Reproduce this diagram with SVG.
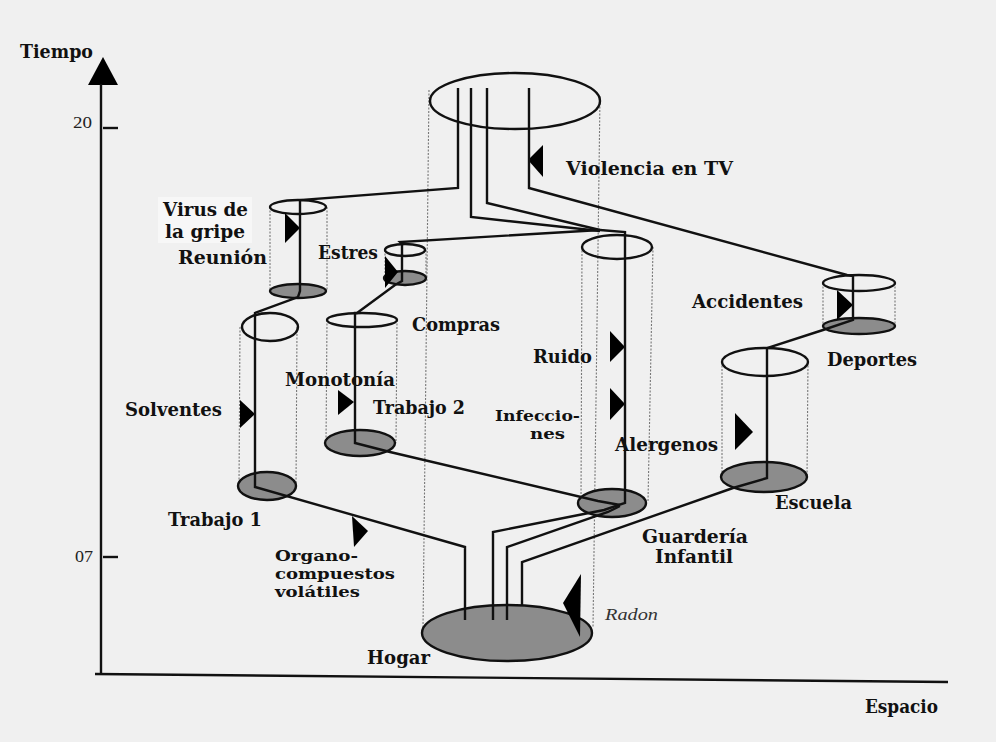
<svg xmlns="http://www.w3.org/2000/svg" width="996" height="742" viewBox="0 0 996 742">
  <style>
    .lbl { font-family: "DejaVu Serif", "Liberation Serif", serif; font-weight: bold; font-size: 18px; fill: #111; }
    .sm { font-size: 15px; }
    .tick { font-family: "Liberation Serif", "DejaVu Serif", serif; font-size: 17px; fill: #222; }
    .rad { font-family: "Liberation Serif", "DejaVu Serif", serif; font-style: italic; font-size: 16px; fill: #333; }
    .rim { fill: none; stroke: #111; stroke-width: 2.4; }
    .base { fill: #8c8c8c; stroke: #111; stroke-width: 2.4; }
    .side { stroke: #777; stroke-width: 1.1; stroke-dasharray: 2 1.5; fill: none; }
    .path { fill: none; stroke: #111; stroke-width: 2.4; stroke-linejoin: miter; }
    .axis { fill: none; stroke: #111; stroke-width: 2.4; }
    .tri { fill: #000; }
  </style>

  <rect width="996" height="742" fill="#f0f0f0"/>

  <!-- axes -->
  <g id="axes">
    <polygon points="103,57 88,85 118,85" fill="#000"/>
    <line class="axis" x1="101" y1="84" x2="101" y2="675"/>
    <line class="axis" x1="95" y1="674" x2="948" y2="682"/>
    <line class="axis" x1="103" y1="128" x2="118" y2="128"/>
    <line class="axis" x1="103" y1="557" x2="118" y2="557"/>
    <text class="lbl" x="20" y="58" textLength="73" lengthAdjust="spacingAndGlyphs">Tiempo</text>
    <text class="tick" x="73" y="128" textLength="19" lengthAdjust="spacingAndGlyphs">20</text>
    <text class="tick" x="75" y="562" textLength="18" lengthAdjust="spacingAndGlyphs">07</text>
    <text class="lbl" x="865" y="713" textLength="73" lengthAdjust="spacingAndGlyphs">Espacio</text>
  </g>

  <!-- big home cylinder: evening (top) and Hogar (bottom) -->
  <g id="hogar">
    <line class="side" x1="429" y1="90" x2="423" y2="628"/>
    <line class="side" x1="600" y1="96" x2="593" y2="628"/>
    <ellipse class="base" cx="507" cy="633" rx="85" ry="28"/>
    <ellipse class="rim" cx="515" cy="101" rx="85" ry="28"/>
    <path class="tri" d="M563,603 L581,574 L580,637 Z"/>
    <text class="lbl" x="367" y="664" textLength="63" lengthAdjust="spacingAndGlyphs">Hogar</text>
    <text class="rad" x="605" y="620" textLength="53" lengthAdjust="spacingAndGlyphs">Radon</text>
    <path class="tri" d="M528,160 L543,145 L543,177 Z"/>
    <text class="lbl" x="566" y="175" textLength="167" lengthAdjust="spacingAndGlyphs">Violencia en TV</text>
  </g>

  <!-- Reunión -->
  <g id="reunion">
    <line class="side" x1="270" y1="207" x2="270" y2="291"/>
    <line class="side" x1="327" y1="207" x2="327" y2="291"/>
    <ellipse class="base" cx="298" cy="291" rx="28" ry="7"/>
    <ellipse class="rim" cx="298" cy="207" rx="28" ry="7"/>
    <path class="tri" d="M285,213 L300,228 L285,243 Z"/>
    <rect x="158" y="197" width="94" height="46" fill="#f7f7f7"/>
    <text class="lbl" x="163" y="216" textLength="85" lengthAdjust="spacingAndGlyphs">Virus de</text>
    <text class="lbl" x="165" y="238" textLength="80" lengthAdjust="spacingAndGlyphs">la gripe</text>
    <text class="lbl" x="178" y="264" textLength="89" lengthAdjust="spacingAndGlyphs">Reunión</text>
  </g>

  <!-- Trabajo 1 -->
  <g id="trabajo1">
    <line class="side" x1="240" y1="327" x2="239" y2="486"/>
    <line class="side" x1="297" y1="327" x2="296" y2="486"/>
    <ellipse class="base" cx="267" cy="486" rx="29" ry="14"/>
    <ellipse class="rim" cx="270" cy="327" rx="28" ry="14"/>
    <path class="tri" d="M240,400 L255,414 L240,428 Z"/>
    <text class="lbl" x="125" y="416" textLength="97" lengthAdjust="spacingAndGlyphs">Solventes</text>
    <text class="lbl" x="168" y="526" textLength="94" lengthAdjust="spacingAndGlyphs">Trabajo 1</text>
    <path class="tri" d="M352,516 L368,531 L354,547 Z"/>
    <text class="lbl sm" x="275" y="561" textLength="83" lengthAdjust="spacingAndGlyphs">Organo-</text>
    <text class="lbl sm" x="275" y="579" textLength="120" lengthAdjust="spacingAndGlyphs">compuestos</text>
    <text class="lbl sm" x="275" y="597" textLength="85" lengthAdjust="spacingAndGlyphs">volátiles</text>
  </g>

  <!-- Compras -->
  <g id="compras">
    <line class="side" x1="385" y1="250" x2="385" y2="278"/>
    <line class="side" x1="426" y1="250" x2="426" y2="278"/>
    <ellipse class="base" cx="405" cy="278" rx="21" ry="7"/>
    <ellipse class="rim" cx="405" cy="250" rx="20" ry="6"/>
    <path class="tri" d="M385,256 L398,272 L385,288 Z"/>
    <text class="lbl" x="318" y="259" textLength="60" lengthAdjust="spacingAndGlyphs">Estres</text>
    <text class="lbl" x="412" y="331" textLength="88" lengthAdjust="spacingAndGlyphs">Compras</text>
  </g>

  <!-- Trabajo 2 -->
  <g id="trabajo2">
    <line class="side" x1="327" y1="320" x2="326" y2="443"/>
    <line class="side" x1="397" y1="320" x2="396" y2="443"/>
    <ellipse class="base" cx="360" cy="443" rx="35" ry="13"/>
    <ellipse class="rim" cx="362" cy="320" rx="35" ry="7"/>
    <path class="tri" d="M338,390 L354,402 L338,415 Z"/>
    <text class="lbl" x="285" y="386" textLength="110" lengthAdjust="spacingAndGlyphs">Monotonía</text>
    <text class="lbl" x="373" y="414" textLength="92" lengthAdjust="spacingAndGlyphs">Trabajo 2</text>
  </g>

  <!-- Guardería Infantil -->
  <g id="guarderia">
    <line class="side" x1="582" y1="247" x2="581" y2="502"/>
    <line class="side" x1="653" y1="247" x2="648" y2="502"/>
    <ellipse class="base" cx="612" cy="503" rx="34" ry="14"/>
    <ellipse class="rim" cx="617" cy="247" rx="35" ry="12"/>
    <path class="tri" d="M610,331 L625,347 L610,362 Z"/>
    <path class="tri" d="M610,388 L625,404 L610,420 Z"/>
    <text class="lbl" x="533" y="363" textLength="59" lengthAdjust="spacingAndGlyphs">Ruido</text>
    <text class="lbl sm" x="495" y="421" textLength="85" lengthAdjust="spacingAndGlyphs">Infeccio-</text>
    <text class="lbl sm" x="530" y="439" textLength="35" lengthAdjust="spacingAndGlyphs">nes</text>
    <text class="lbl" x="615" y="451" textLength="103" lengthAdjust="spacingAndGlyphs">Alergenos</text>
    <text class="lbl" x="642" y="543" textLength="106" lengthAdjust="spacingAndGlyphs">Guardería</text>
    <text class="lbl" x="655" y="563" textLength="78" lengthAdjust="spacingAndGlyphs">Infantil</text>
  </g>

  <!-- Escuela -->
  <g id="escuela">
    <line class="side" x1="722" y1="362" x2="722" y2="477"/>
    <line class="side" x1="808" y1="362" x2="807" y2="477"/>
    <ellipse class="base" cx="764" cy="477" rx="43" ry="15"/>
    <ellipse class="rim" cx="765" cy="362" rx="43" ry="14"/>
    <path class="tri" d="M735,413 L753,432 L735,450 Z"/>
    <text class="lbl" x="775" y="509" textLength="77" lengthAdjust="spacingAndGlyphs">Escuela</text>
  </g>

  <!-- Deportes -->
  <g id="deportes">
    <line class="side" x1="823" y1="283" x2="823" y2="326"/>
    <line class="side" x1="895" y1="283" x2="895" y2="326"/>
    <ellipse class="base" cx="859" cy="326" rx="36" ry="8"/>
    <ellipse class="rim" cx="859" cy="283" rx="36" ry="8"/>
    <path class="tri" d="M837,290 L853,305 L837,320 Z"/>
    <text class="lbl" x="692" y="308" textLength="111" lengthAdjust="spacingAndGlyphs">Accidentes</text>
    <text class="lbl" x="827" y="366" textLength="90" lengthAdjust="spacingAndGlyphs">Deportes</text>
  </g>

  <!-- daily paths between places -->
  <g id="connectors">
    <!-- home to Reunión, Trabajo 1 and back -->
    <polyline class="path" points="458,88 458,188 300,200 300,291 298,297 255,313 255,487 465,547 465,620"/>
    <!-- home to Guardería -->
    <polyline class="path" points="471,88 471,217 600,231"/>
    <polyline class="path" points="487,88 487,203 600,230"/>
    <polyline class="path" points="600,230 625,232 625,503 604,510 493,532 493,620"/>
    <!-- Guardería to Compras, Trabajo 2 and back -->
    <polyline class="path" points="600,230 400,242 402,244 402,281 395,285 357,313 355,313 355,443 390,452 598,501 620,505"/>
    <polyline class="path" points="620,506 608,512 507,547 507,620"/>
    <!-- home to Deportes, Escuela and back -->
    <polyline class="path" points="529,88 529,188 847,275 853,276 853,320 823,330 767,348 767,478 733,488 522,562 522,606"/>
  </g>
</svg>
